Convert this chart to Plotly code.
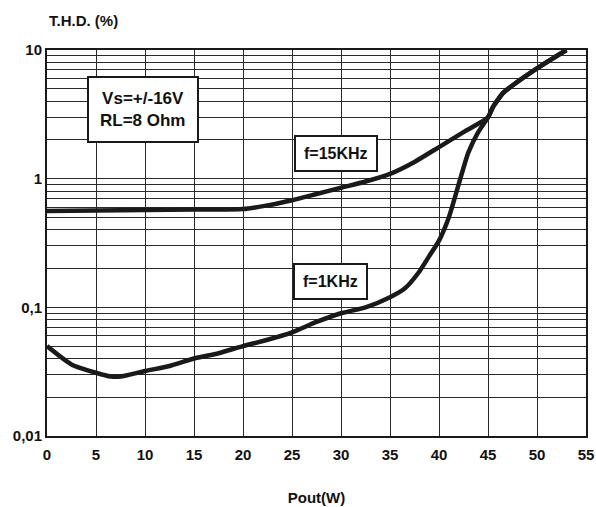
import plotly.graph_objects as go

# f = 1 KHz curve
p_1k = [0, 2.5, 5, 6.5, 7.5, 10, 12.5, 15, 17.5, 20, 22.5, 25, 27.5, 30, 32.5, 35, 36.5, 38, 39, 40, 41, 42, 43, 44, 45, 45.5, 46, 46.5, 47.5, 50, 53]
thd_1k = [0.05, 0.036, 0.031, 0.029, 0.029, 0.032, 0.035, 0.04, 0.044, 0.05, 0.056, 0.064, 0.077, 0.09, 0.1, 0.12, 0.14, 0.19, 0.25, 0.33, 0.5, 0.9, 1.6, 2.3, 3.0, 3.6, 4.1, 4.6, 5.3, 7.2, 10.0]

# f = 15 KHz curve
p_15k = [0, 5, 10, 15, 20, 22.5, 25, 27.5, 30, 32.5, 35, 37.5, 40, 42.5, 45, 45.5, 46, 46.5, 47.5, 50, 53]
thd_15k = [0.56, 0.565, 0.57, 0.575, 0.58, 0.62, 0.68, 0.76, 0.85, 0.95, 1.09, 1.35, 1.76, 2.3, 3.0, 3.6, 4.1, 4.6, 5.3, 7.2, 10.0]

x_ticks = [0, 5, 10, 15, 20, 25, 30, 35, 40, 45, 50, 55]
y_major = [0.01, 0.1, 1, 10]
y_major_text = ["0,01", "0,1", "1", "10"]

FONT = "Liberation Sans, Arial, sans-serif"

y_vals, y_text = [], []
for i, d in enumerate(y_major):
    y_vals.append(d)
    y_text.append(y_major_text[i])
    if d < 10:
        for k in range(2, 10):
            y_vals.append(d * k)
            y_text.append("")

fig = go.Figure()
fig.add_trace(go.Scatter(x=p_1k, y=thd_1k, mode="lines",
                         line=dict(color="#1a1a1a", width=4.5, shape="spline", smoothing=0.6),
                         showlegend=False))
fig.add_trace(go.Scatter(x=p_15k, y=thd_15k, mode="lines",
                         line=dict(color="#1a1a1a", width=4.5, shape="spline", smoothing=0.6),
                         showlegend=False))

tfont = dict(family=FONT, size=15, color="#111", weight="bold")
fig.update_xaxes(range=[0, 55], tickvals=x_ticks, showgrid=True, gridcolor="#2a2a2a", gridwidth=1.4,
                 showline=True, linecolor="#1a1a1a", linewidth=2, mirror=True, zeroline=False,
                 ticks="", tickfont=tfont, automargin=False, ticklabelstandoff=4,
                 title=dict(text="<b>Pout(W)</b>", font=dict(family=FONT, size=15, color="#111"), standoff=30))
fig.update_yaxes(type="log", range=[-2, 1], tickvals=y_vals, ticktext=y_text, showgrid=True,
                 gridcolor="#2a2a2a", gridwidth=1.4, automargin=False,
                 showline=True, linecolor="#1a1a1a", linewidth=2, mirror=True, zeroline=False,
                 ticks="", tickfont=tfont)

fig.add_annotation(x=0, y=1.0, xref="paper", yref="paper", xanchor="left", yanchor="bottom",
                   yshift=19, text="<b>T.H.D. (%)</b>", showarrow=False,
                   font=dict(family=FONT, size=15, color="#111"))

box = dict(showarrow=False, bgcolor="white", bordercolor="#1a1a1a", borderwidth=2,
           font=dict(family=FONT, size=17, color="#111"))
fig.add_annotation(x=9.8, y=0.534, text="<b>Vs=+/-16V</b><br><b>RL=8 Ohm</b>",
                   borderpad=11, **box)
fig.add_annotation(x=29.5, y=0.192, text="<b>f=15KHz</b>", borderpad=8,
                   **{**box, "font": dict(family=FONT, size=16, color="#111")})
fig.add_annotation(x=28.9, y=-0.803, text="<b>f=1KHz</b>", borderpad=8,
                   **{**box, "font": dict(family=FONT, size=16, color="#111")})

fig.update_layout(width=596, height=507, margin=dict(l=47, r=10, t=50, b=71),
                  plot_bgcolor="white", paper_bgcolor="white",
                  font=dict(family=FONT, color="#111"))

fig.write_html("out.html", config={"displayModeBar": False},
               post_script="document.body.style.margin='0';document.body.style.overflow='hidden';")
